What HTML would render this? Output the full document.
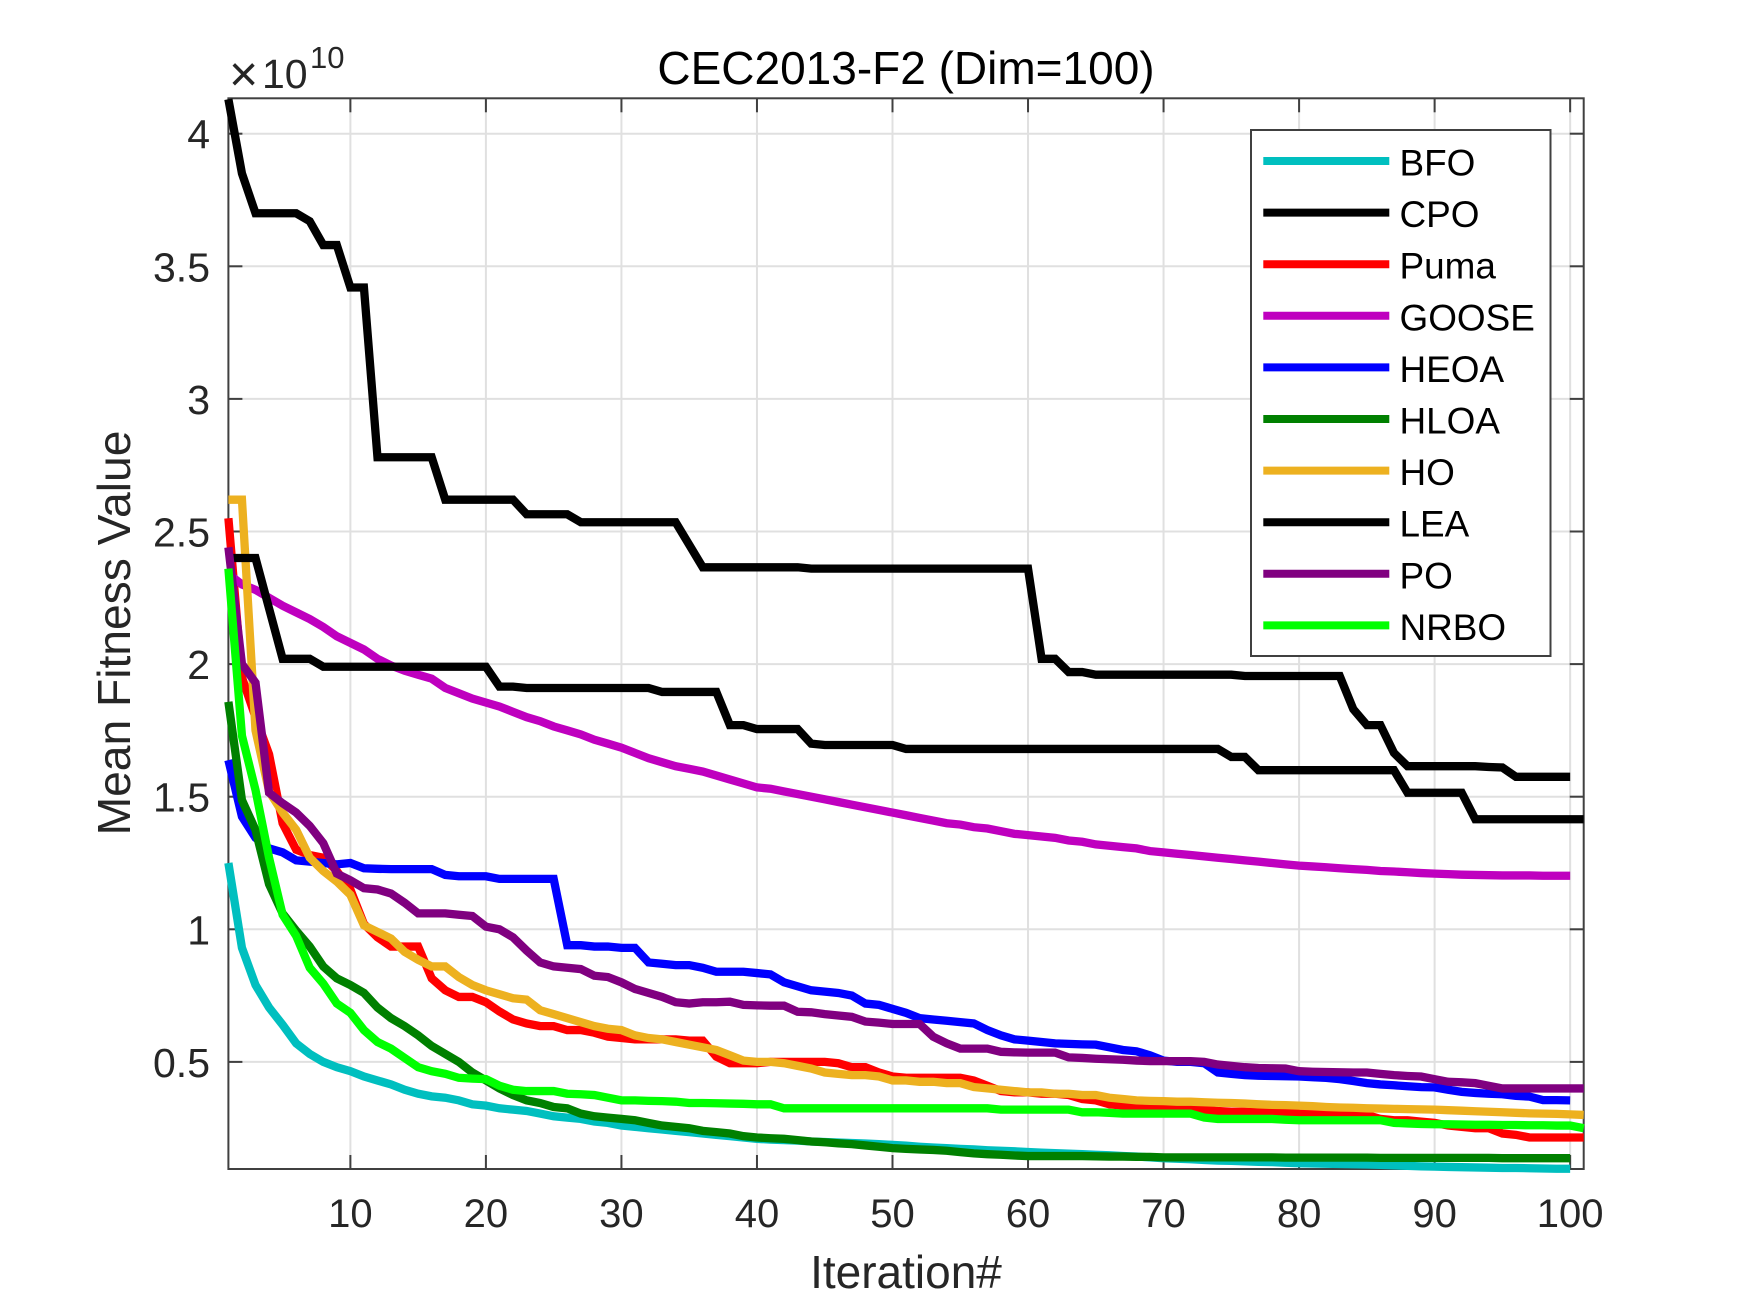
<!DOCTYPE html>
<html lang="en">
<head>
<meta charset="utf-8">
<title>CEC2013-F2 (Dim=100)</title>
<style>
html,body{margin:0;padding:0;background:#fff;}
svg{display:block;font-family:"Liberation Sans",Arial,sans-serif;}
</style>
</head>
<body>
<svg id="chart" xmlns="http://www.w3.org/2000/svg" width="1750" height="1313" viewBox="0 0 1750 1313">
  <rect x="0" y="0" width="1750" height="1313" fill="#fff"/>
  <g id="grid"></g>
  <g id="axes"></g>
  <g id="series"></g>
  <g id="legend"></g>
  <text x="906" y="84" font-size="46" text-anchor="middle" fill="#000">CEC2013-F2 (Dim=100)</text>
  <text x="906" y="1288" font-size="46" text-anchor="middle" fill="#262626">Iteration#</text>
  <text transform="translate(130,633) rotate(-90)" font-size="46.2" text-anchor="middle" fill="#262626">Mean Fitness Value</text>
  <text x="229" y="91" font-size="50" font-weight="normal" fill="#262626">×</text>
  <text x="262" y="88" font-size="41" fill="#262626">10</text>
  <text x="310" y="68" font-size="31" fill="#262626">10</text>
</svg>
<script>
const xTicks = [10,20,30,40,50,60,70,80,90,100];
const yTicks = [0.5,1,1.5,2,2.5,3,3.5,4];
const yTickLabels = ["0.5","1","1.5","2","2.5","3","3.5","4"];
const seriesNames = ["BFO","CPO","Puma","GOOSE","HEOA","HLOA","HO","LEA","PO","NRBO"];

const BFO = [1.25,.93,.79,.705,.64,.57,.53,.50,.48,.465,
.445,.43,.415,.395,.38,.37,.365,.355,.34,.335,
.325,.32,.315,.305,.295,.29,.285,.275,.27,.26,
.255,.25,.245,.24,.235,.23,.225,.22,.215,.21,
.207,.205,.203,.20,.198,.196,.194,.192,.19,.187,
.184,.18,.177,.175,.172,.17,.167,.165,.163,.16,
.158,.156,.154,.152,.15,.148,.145,.143,.14,.137,
.135,.133,.13,.128,.127,.125,.123,.122,.12,.118,
.117,.116,.115,.114,.113,.112,.11,.108,.106,.105,
.104,.103,.102,.101,.10,.10,.099,.098,.097,.097];

const CPO = [4.13,3.85,3.70,3.70,3.70,3.70,3.67,3.58,3.58,3.42,
3.42,2.78,2.78,2.78,2.78,2.78,2.62,2.62,2.62,2.62,
2.62,2.62,2.565,2.565,2.565,2.565,2.535,2.535,2.535,2.535,
2.535,2.535,2.535,2.535,2.45,2.365,2.365,2.365,2.365,2.365,
2.365,2.365,2.365,2.36,2.36,2.36,2.36,2.36,2.36,2.36,
2.36,2.36,2.36,2.36,2.36,2.36,2.36,2.36,2.36,2.36,
2.02,2.02,1.97,1.97,1.96,1.96,1.96,1.96,1.96,1.96,
1.96,1.96,1.96,1.96,1.96,1.955,1.955,1.955,1.955,1.955,
1.955,1.955,1.955,1.83,1.77,1.77,1.665,1.615,1.615,1.615,
1.615,1.615,1.615,1.612,1.61,1.575,1.575,1.575,1.575,1.575];

const Puma = [2.55,1.95,1.80,1.66,1.40,1.30,1.28,1.27,1.22,1.15,
1.02,.97,.935,.935,.935,.815,.77,.745,.745,.725,
.69,.66,.645,.635,.635,.62,.62,.61,.595,.59,
.585,.585,.585,.585,.58,.58,.52,.495,.495,.495,
.50,.50,.50,.50,.50,.495,.48,.48,.46,.445,
.44,.44,.44,.44,.44,.43,.41,.39,.385,.385,
.38,.38,.375,.36,.355,.34,.335,.33,.33,.33,
.33,.33,.32,.315,.312,.312,.31,.31,.31,.305,
.303,.30,.30,.30,.30,.285,.28,.28,.275,.27,
.26,.255,.25,.25,.23,.225,.215,.215,.215,.215,.215];

const GOOSE = [2.34,2.30,2.28,2.25,2.22,2.195,2.17,2.14,2.105,2.08,
2.055,2.02,1.995,1.975,1.96,1.945,1.91,1.89,1.87,1.855,
1.84,1.82,1.80,1.785,1.765,1.75,1.735,1.715,1.70,1.685,
1.665,1.645,1.63,1.615,1.605,1.595,1.58,1.565,1.55,1.535,
1.53,1.52,1.51,1.50,1.49,1.48,1.47,1.46,1.45,1.44,
1.43,1.42,1.41,1.40,1.395,1.385,1.38,1.37,1.36,1.355,
1.35,1.345,1.335,1.33,1.32,1.315,1.31,1.305,1.295,1.29,
1.285,1.28,1.275,1.27,1.265,1.26,1.255,1.25,1.245,1.24,
1.237,1.234,1.23,1.227,1.224,1.22,1.218,1.215,1.212,1.21,
1.208,1.206,1.205,1.204,1.203,1.203,1.203,1.202,1.202,1.202];

const HEOA = [1.638,1.425,1.345,1.305,1.29,1.26,1.255,1.25,1.245,1.25,
1.23,1.228,1.227,1.227,1.227,1.227,1.205,1.20,1.20,1.20,
1.19,1.19,1.19,1.19,1.19,.94,.94,.935,.935,.93,
.93,.875,.87,.865,.865,.855,.84,.84,.84,.835,
.83,.80,.785,.77,.765,.76,.75,.72,.715,.70,
.685,.665,.66,.655,.65,.645,.62,.60,.585,.58,
.575,.57,.568,.566,.565,.555,.545,.54,.525,.505,
.50,.50,.495,.46,.455,.45,.448,.447,.446,.445,
.442,.44,.435,.428,.42,.415,.412,.408,.405,.404,
.395,.387,.383,.38,.378,.372,.369,.356,.356,.355];

const HLOA = [1.858,1.487,1.375,1.17,1.06,.995,.935,.86,.815,.79,
.76,.705,.665,.635,.60,.56,.53,.50,.46,.43,
.40,.375,.355,.345,.33,.325,.305,.295,.29,.285,
.28,.27,.26,.255,.25,.24,.235,.23,.22,.215,
.212,.21,.205,.20,.197,.193,.19,.185,.18,.175,
.172,.17,.168,.165,.16,.155,.152,.15,.147,.145,
.145,.145,.145,.145,.144,.143,.143,.142,.142,.14,
.14,.14,.14,.14,.14,.14,.14,.14,.139,.139,
.139,.139,.139,.139,.139,.138,.138,.138,.138,.138,
.138,.138,.138,.138,.137,.137,.137,.137,.137,.137];

const HO = [2.62,2.62,1.75,1.52,1.44,1.375,1.27,1.22,1.18,1.13,
1.015,.99,.965,.915,.885,.86,.86,.82,.79,.77,
.755,.74,.735,.695,.68,.665,.65,.635,.625,.62,
.60,.59,.585,.575,.565,.555,.545,.525,.505,.50,
.50,.495,.485,.475,.46,.455,.45,.45,.445,.43,
.43,.425,.425,.42,.42,.405,.40,.395,.39,.385,
.385,.38,.38,.375,.375,.365,.36,.355,.353,.352,
.35,.35,.348,.346,.345,.343,.34,.338,.337,.335,
.333,.33,.328,.327,.325,.324,.323,.322,.321,.32,
.318,.316,.314,.312,.31,.308,.306,.305,.304,.302,.30];

const LEA = [2.40,2.40,2.40,2.21,2.02,2.02,2.02,1.99,1.99,1.99,
1.99,1.99,1.99,1.99,1.99,1.99,1.99,1.99,1.99,1.99,
1.915,1.915,1.91,1.91,1.91,1.91,1.91,1.91,1.91,1.91,
1.91,1.91,1.895,1.895,1.895,1.895,1.895,1.77,1.77,1.755,
1.755,1.755,1.755,1.70,1.695,1.695,1.695,1.695,1.695,1.695,
1.68,1.68,1.68,1.68,1.68,1.68,1.68,1.68,1.68,1.68,
1.68,1.68,1.68,1.68,1.68,1.68,1.68,1.68,1.68,1.68,
1.68,1.68,1.68,1.68,1.65,1.65,1.60,1.60,1.60,1.60,
1.60,1.60,1.60,1.60,1.60,1.60,1.60,1.515,1.515,1.515,
1.515,1.515,1.415,1.415,1.415,1.415,1.415,1.415,1.415,1.415,1.415];

const PO = [2.44,2.00,1.93,1.515,1.475,1.44,1.39,1.325,1.21,1.185,
1.155,1.15,1.135,1.10,1.06,1.06,1.06,1.055,1.05,1.01,
1.00,.97,.92,.875,.86,.855,.85,.825,.82,.80,
.775,.76,.745,.725,.72,.725,.725,.727,.715,.713,
.712,.712,.689,.687,.68,.675,.67,.652,.648,.643,
.643,.643,.595,.57,.55,.55,.55,.538,.536,.535,
.535,.535,.517,.515,.512,.51,.508,.505,.503,.503,
.503,.503,.50,.49,.485,.48,.477,.476,.475,.465,
.463,.462,.461,.46,.46,.455,.45,.447,.445,.435,
.425,.423,.42,.41,.40,.40,.40,.40,.40,.40,.40];

const NRBO = [2.36,1.73,1.525,1.27,1.055,.975,.855,.795,.72,.685,
.62,.575,.55,.515,.48,.465,.455,.44,.437,.435,
.41,.395,.39,.39,.39,.38,.378,.375,.365,.355,
.355,.353,.352,.35,.345,.345,.344,.343,.342,.34,
.34,.325,.325,.325,.325,.325,.325,.325,.325,.325,
.325,.325,.325,.325,.325,.325,.325,.32,.32,.32,
.32,.32,.32,.31,.31,.308,.305,.305,.305,.305,
.305,.305,.29,.285,.285,.285,.285,.285,.282,.28,
.28,.28,.28,.28,.28,.28,.27,.268,.266,.265,
.265,.264,.263,.263,.262,.262,.261,.261,.26,.26,.25];

const seriesValues = [BFO,CPO,Puma,GOOSE,HEOA,HLOA,HO,LEA,PO,NRBO];
const seriesColors = ["#00bfbf","#000000","#ff0000","#bf00bf","#0000ff","#008000","#edb120","#000000","#800080","#00ff00"];

const plotLeft = 228.4, plotRight = 1583.7, plotTop = 98.3, plotBottom = 1169;
const xMin = 1, xMax = 101;
const yRefPx = 133.7, yRefVal = 4, yPxPerUnit = 265.2;
const axisColor = "#404040", gridColor = "#e0e0e0", textColor = "#262626";
const NS = "http://www.w3.org/2000/svg";

function sx(x){ return plotLeft + (x - xMin) * (plotRight - plotLeft) / (xMax - xMin); }
function sy(v){ return yRefPx + (yRefVal - v) * yPxPerUnit; }
function mk(tag, attrs, parent){
  const el = document.createElementNS(NS, tag);
  for (const k in attrs) el.setAttribute(k, attrs[k]);
  parent.appendChild(el);
  return el;
}

const gridG = document.getElementById("grid");
const axesG = document.getElementById("axes");
const seriesG = document.getElementById("series");
const legendG = document.getElementById("legend");
const tickLen = 14;

xTicks.forEach(function(t){
  const X = sx(t);
  const g = mk("line", {x1:X,x2:X,y1:plotTop,y2:plotBottom,stroke:gridColor,"stroke-width":2}, gridG);
  
  
  const b = mk("line", {x1:X,x2:X,y1:plotBottom,y2:plotBottom-tickLen,stroke:axisColor,"stroke-width":2}, axesG);
  
  
  const u = mk("line", {x1:X,x2:X,y1:plotTop,y2:plotTop+tickLen,stroke:axisColor,"stroke-width":2}, axesG);
  
  
  const l = mk("text", {x:X,y:1227,"font-size":40,"text-anchor":"middle",fill:textColor}, axesG);
  
  
  l.textContent = String(t);
});

yTicks.forEach(function(t, i){
  const Y = sy(t);
  const g = mk("line", {x1:plotLeft,x2:plotRight,y1:Y,y2:Y,stroke:gridColor,"stroke-width":2}, gridG);
  
  
  const a = mk("line", {x1:plotLeft,x2:plotLeft+tickLen,y1:Y,y2:Y,stroke:axisColor,"stroke-width":2}, axesG);
  
  
  const c = mk("line", {x1:plotRight,x2:plotRight-tickLen,y1:Y,y2:Y,stroke:axisColor,"stroke-width":2}, axesG);
  
  
  const l = mk("text", {x:210,y:Y+15,"font-size":41,"text-anchor":"end",fill:textColor}, axesG);
  
  
  l.textContent = yTickLabels[i];
});

const frame = mk("rect", {x:plotLeft,y:plotTop,width:plotRight-plotLeft,height:plotBottom-plotTop,fill:"none",stroke:axisColor,"stroke-width":2}, axesG);



seriesValues.forEach(function(vals, i){
  const pts = vals.map(function(v, k){ return sx(k + 1).toFixed(2) + "," + sy(v).toFixed(2); }).join(" ");
  const line = mk("polyline", {points:pts,fill:"none",stroke:seriesColors[i],"stroke-width":8.3,"stroke-linejoin":"miter","stroke-miterlimit":6}, seriesG);
  
  
});

const legendBox = mk("rect", {x:1251,y:130,width:299.5,height:526,fill:"#fff",stroke:axisColor,"stroke-width":2}, legendG);


seriesNames.forEach(function(name, i){
  const Y = 161 + i * 51.6;
  const sw = mk("line", {x1:1263.3,x2:1389.3,y1:Y,y2:Y,stroke:seriesColors[i],"stroke-width":8}, legendG);
  
  
  const t = mk("text", {x:1399.5,y:Y+14.5,"font-size":36.9,fill:"#000"}, legendG);
  
  
  t.textContent = name;
});
</script>
</body>
</html>
